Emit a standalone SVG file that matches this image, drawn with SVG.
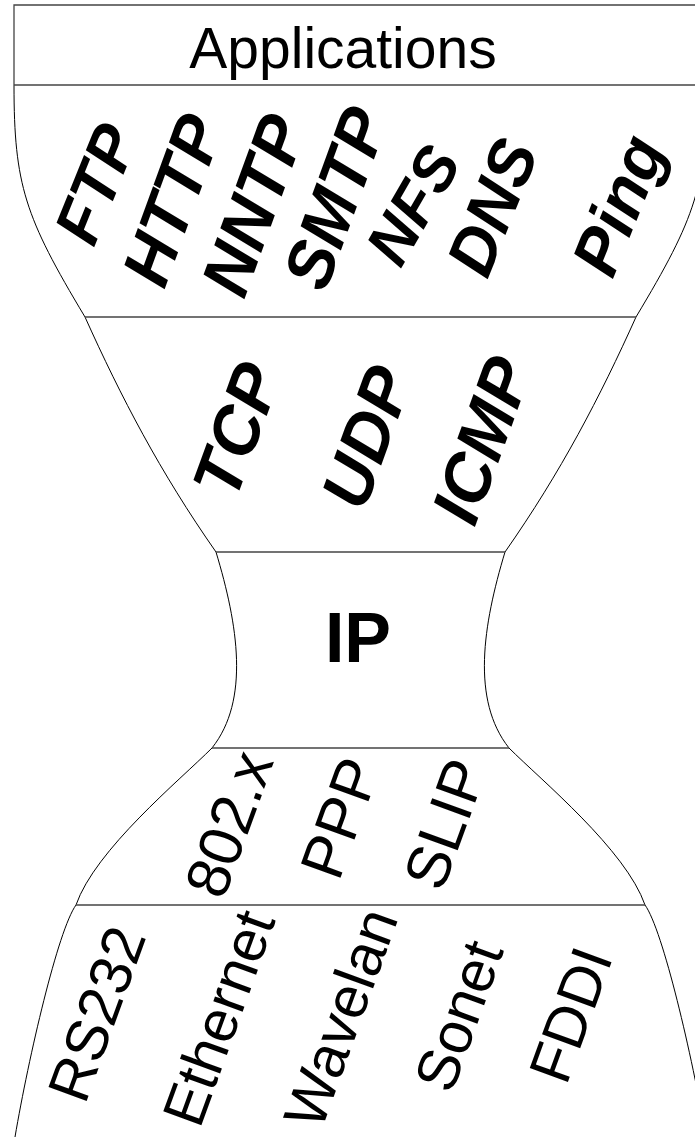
<svg xmlns="http://www.w3.org/2000/svg" xmlns:xlink="http://www.w3.org/1999/xlink" width="695" height="1137" viewBox="0 0 695 1137">
<style>
.edge{fill:none;stroke:#000;stroke-width:1}
.rule{fill:none;stroke:#444;stroke-width:1.3}
.t{font-family:"Liberation Sans",Arial,sans-serif;fill:#000;text-anchor:middle}
.b{font-weight:bold;font-style:italic;dominant-baseline:central}
.r{dominant-baseline:central}
</style>
<rect x="0" y="0" width="695" height="1137" fill="#fff"/>
<g id="outline">
<path id="left-edge" class="edge" d="M14,85 C14,185 25,217 85,317 C121,397 160,472 216,552 C238,625 250,700 212,748 C180,780 95,850 76,905 C58,930 28.6,1057 15,1137"/>
<use xlink:href="#left-edge" href="#left-edge" transform="translate(721,0) scale(-1,1)"/>
<path class="rule" d="M14,85 V5 H695"/>
<path class="rule" d="M14,85 H695"/>
<path class="rule" d="M85,317 H636"/>
<path class="rule" d="M216,552 H505"/>
<path class="rule" d="M212,748 H509"/>
<path class="rule" d="M76,905 H645"/>
</g>
<g id="applications">
<text class="t" x="343" y="68" font-size="57">Applications</text>
</g>
<g id="app-protocols" font-size="67">
<text class="t b" transform="translate(96,184) rotate(-68)" font-size="64">FTP</text>
<text class="t b" transform="translate(172,200) rotate(-70)">HTTP</text>
<text class="t b" transform="translate(253,205) rotate(-70)" font-size="68">NNTP</text>
<text class="t b" transform="translate(335,198) rotate(-70)">SMTP</text>
<text class="t b" transform="translate(413,205) rotate(-60)" font-size="62">NFS</text>
<text class="t b" transform="translate(492,207) rotate(-68)" font-size="66">DNS</text>
<text class="t b" transform="translate(618,205) rotate(-68)" font-size="66">Ping</text>
</g>
<g id="transport" font-size="68">
<text class="t b" transform="translate(236,430) rotate(-70)">TCP</text>
<text class="t b" transform="translate(366,437) rotate(-70)">UDP</text>
<text class="t b" transform="translate(481,440) rotate(-70)">ICMP</text>
</g>
<g id="ip">
<text class="t" x="358" y="662" font-size="70" font-weight="bold">IP</text>
</g>
<g id="link" font-size="61">
<text class="t r" transform="translate(229,824) rotate(-70)">802.x</text>
<text class="t r" transform="translate(340,818) rotate(-70)">PPP</text>
<text class="t r" transform="translate(445,824) rotate(-70)">SLIP</text>
</g>
<g id="physical" font-size="59">
<text class="t r" transform="translate(97,1014) rotate(-70)">RS232</text>
<text class="t r" transform="translate(219,1018) rotate(-70)">Ethernet</text>
<text class="t r" transform="translate(341,1018) rotate(-70)">Wavelan</text>
<text class="t r" transform="translate(459,1016) rotate(-70)">Sonet</text>
<text class="t r" transform="translate(571,1015) rotate(-70)">FDDI</text>
</g>
</svg>
